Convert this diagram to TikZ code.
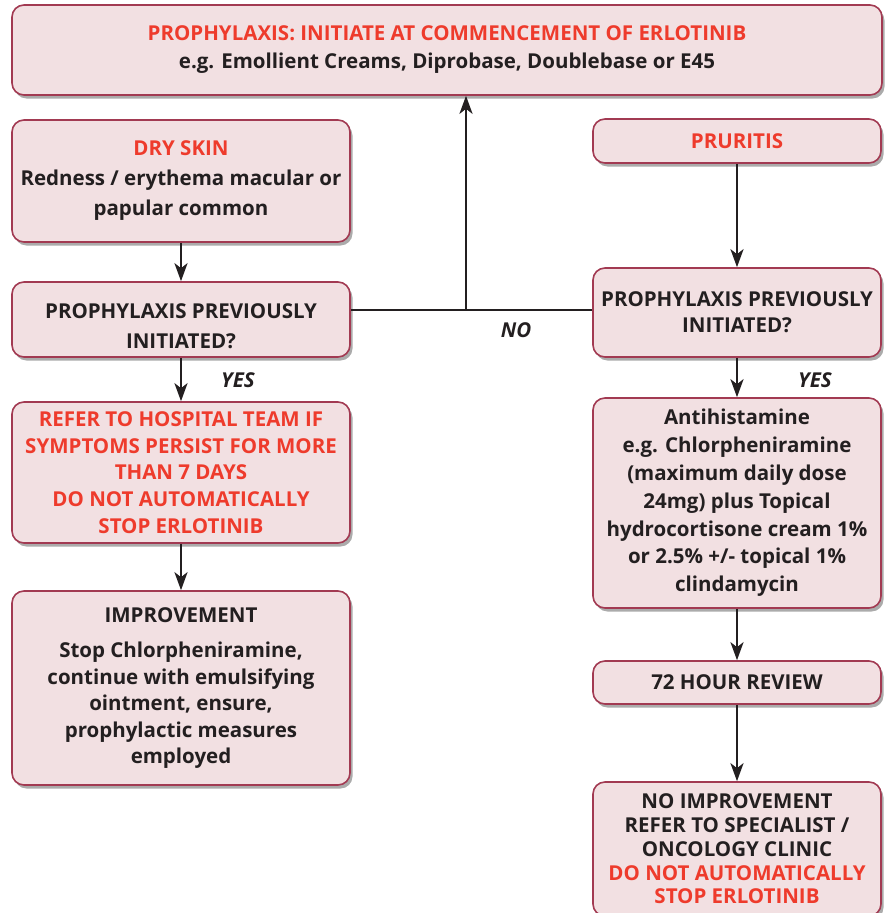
\documentclass[tikz,border=0pt]{standalone}
\usepackage{fontspec}
\setmainfont{Open Sans}
\usepackage{tikz}
\usetikzlibrary{arrows.meta, shadows, positioning, calc}
\definecolor{boxfill}{HTML}{F2E0E2}
\definecolor{boxline}{HTML}{A23A52}
\definecolor{alertred}{HTML}{EE3B2C}
\definecolor{textdark}{HTML}{231F20}

\tikzset{
  flowbox/.style={draw=boxline, line width=1.6pt, fill=boxfill, rounded corners=12pt,
    align=center, inner sep=0pt, text=textdark,
    font=\fontsize{20.5}{27.5}\selectfont\bfseries,
    drop shadow={shadow xshift=2.5pt, shadow yshift=-3.5pt, fill=black!60, opacity=0.55}},
  spacing/.style={font=\fontsize{20.5}{#1}\selectfont\bfseries},
  flowarrow/.style={-{Stealth[length=18pt,width=13pt,inset=5pt]}, line width=2.6pt, draw=textdark},
  flowline/.style={line width=2.6pt, draw=textdark},
  answer/.style={font=\fontsize{20.5}{22}\selectfont\bfseries\itshape, text=textdark}
}

\begin{document}
\begin{tikzpicture}[x=1pt,y=-1pt]

        % Rahmen
        \useasboundingbox (0,0) rectangle (884,913);

        % Kasten oben
        \node[flowbox, spacing=28, minimum width=870pt, minimum height=90pt] (prophyl) at (447,50)
          {\textcolor{alertred}{PROPHYLAXIS: INITIATE AT COMMENCEMENT OF ERLOTINIB}\\
           e.g. Emollient Creams, Diprobase, Doublebase or E45};

        % linke Spalte
        \node[flowbox, spacing=30, minimum width=338pt, minimum height=122pt] (dryskin) at (181,181)
          {\textcolor{alertred}{DRY SKIN}\\ Redness / erythema macular or\\ papular common};
        \node[flowbox, spacing=30, minimum width=338pt, minimum height=75pt] (prevleft) at (181,319.5)
          {\rule{0pt}{28pt}PROPHYLAXIS PREVIOUSLY\\ INITIATED?};
        \node[flowbox, spacing=26.7, minimum width=338pt, minimum height=141pt, text=alertred] (hospital) at (181,472.5)
          {REFER TO HOSPITAL TEAM IF\\ SYMPTOMS PERSIST FOR MORE\\ THAN 7 DAYS\\
           DO NOT AUTOMATICALLY\\ STOP ERLOTINIB};
        \node[flowbox, spacing=26.5, minimum width=338pt, minimum height=194pt] (improve) at (181,688)
          {IMPROVEMENT\\[9pt] Stop Chlorpheniramine,\\ continue with emulsifying\\
           ointment, ensure,\\ prophylactic measures\\ employed};

        % rechte Spalte
        \node[flowbox, minimum width=288pt, minimum height=44pt] (pruritis) at (737,141)
          {\textcolor{alertred}{PRURITIS}};
        \node[flowbox, spacing=26, minimum width=288pt, minimum height=89pt] (prevright) at (737,312.5)
          {PROPHYLAXIS PREVIOUSLY\\ INITIATED?};
        \node[flowbox, spacing=27.8, minimum width=288pt, minimum height=210pt] (antihist) at (737,503)
          {Antihistamine\\ e.g. Chlorpheniramine\\ (maximum daily dose\\ 24mg) plus Topical\\
           hydrocortisone cream 1\%\\ or 2.5\% +/- topical 1\%\\ clindamycin};
        \node[flowbox, minimum width=288pt, minimum height=43pt] (review) at (737,682.5)
          {72 HOUR REVIEW};
        \node[flowbox, spacing=23.7, minimum width=288pt, minimum height=134pt] (noimprove) at (737,849)
          {NO IMPROVEMENT\\ REFER TO SPECIALIST /\\ ONCOLOGY CLINIC\\
           \textcolor{alertred}{DO NOT AUTOMATICALLY}\\ \textcolor{alertred}{STOP ERLOTINIB}};

        % Verbindungen
        \coordinate (split) at (466,310);
        \draw[flowline] (prevleft.east |- split) -- (prevright.west |- split);
        \draw[flowarrow] (split) -- (prophyl.south -| split);
        \draw[flowarrow] (dryskin) -- (prevleft);
        \draw[flowarrow] (prevleft) -- (hospital);
        \draw[flowarrow] (hospital) -- (improve);
        \draw[flowarrow] (pruritis) -- (prevright);
        \draw[flowarrow] (prevright) -- (antihist);
        \draw[flowarrow] (antihist) -- (review);
        \draw[flowarrow] (review) -- (noimprove);

        % Antworten
        \node[answer] (noleft) at (516,330) {NO};
        \node[answer] (yesleft) at (238,380) {YES};
        \node[answer] (yesright) at (815,380) {YES};

\end{tikzpicture}
\end{document}
